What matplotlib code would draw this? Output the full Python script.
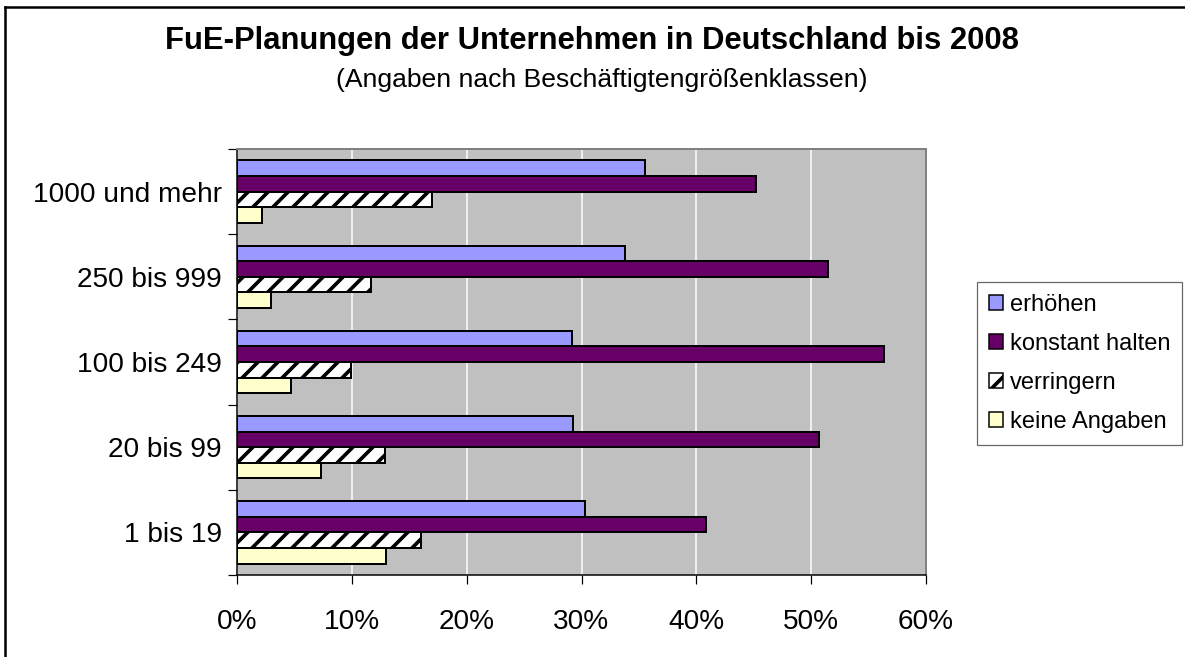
import matplotlib
matplotlib.use("Agg")
import matplotlib.pyplot as plt
import numpy as np
from matplotlib.patches import Patch
from matplotlib.lines import Line2D

plt.rcParams['font.family'] = ['Liberation Sans', 'DejaVu Sans']
plt.rcParams['hatch.linewidth'] = 2.2

categories = ["1 bis 19", "20 bis 99", "100 bis 249", "250 bis 999", "1000 und mehr"]
series_names = ["erhöhen", "konstant halten", "verringern", "keine Angaben"]
erhoehen = [30.3, 29.3, 29.2, 33.8, 35.5]
konstant = [40.8, 50.7, 56.3, 51.5, 45.2]
verringern = [16.0, 12.9, 9.9, 11.7, 17.0]
keine = [13.0, 7.3, 4.7, 3.0, 2.2]
xticks = [0, 10, 20, 30, 40, 50, 60]
xtick_labels = ["0%", "10%", "20%", "30%", "40%", "50%", "60%"]

title = "FuE-Planungen der Unternehmen in Deutschland bis 2008"
subtitle = "(Angaben nach Beschäftigtengrößenklassen)"

DPI = 120
W, H = 1185, 657
fig = plt.figure(figsize=(W / DPI, H / DPI), dpi=DPI)
fig.patch.set_facecolor('white')

def px(v):
    return v * 72.0 / DPI

ax = fig.add_axes([237 / W, 1 - 575 / H, (926 - 237) / W, (575 - 149) / H])
ax.set_facecolor('#C0C0C0')

styles = [
    dict(color='#9999FF', hatch=None),
    dict(color='#660066', hatch=None),
    dict(color='white', hatch='//'),
    dict(color='#FFFFCC', hatch=None),
]
data = [erhoehen, konstant, verringern, keine]
y = np.arange(len(categories))
bh = 0.183
offsets = [1.5 * bh, 0.5 * bh, -0.5 * bh, -1.5 * bh]
for vals, st, off, name in zip(data, styles, offsets, series_names):
    ax.barh(y + off, vals, height=bh, color=st['color'], edgecolor='black',
            linewidth=px(2.0), hatch=st['hatch'], label=name, zorder=3)

ax.set_xlim(0, 60)
ax.set_ylim(-0.5, len(categories) - 0.5)
ax.set_xticks(xticks)
ax.set_xticklabels(xtick_labels, fontsize=px(28))
ax.xaxis.grid(True, color='white', linewidth=px(1.5), zorder=1)
ax.set_axisbelow(True)

ax.set_yticks(y)
ax.set_yticklabels(categories, fontsize=px(28))
ax.set_yticks(np.arange(-0.5, len(categories), 1.0), minor=True)
ax.tick_params(axis='y', which='major', length=0, pad=px(15))
ax.tick_params(axis='y', which='minor', length=px(9), width=px(1.2), color='black')
ax.tick_params(axis='x', which='major', length=px(9), width=px(1.2), color='black', pad=px(25))

for s in ['left', 'bottom']:
    ax.spines[s].set_color('black')
    ax.spines[s].set_linewidth(px(1.5))
for s in ['top', 'right']:
    ax.spines[s].set_color('#808080')
    ax.spines[s].set_linewidth(px(2))

fig.text(592 / W, 1 - 41 / H, title, ha='center', va='center',
         fontsize=px(31), fontweight='bold')
fig.text(602 / W, 1 - 80 / H, subtitle, ha='center', va='center', fontsize=px(26.5))

handles = [Patch(facecolor=st['color'], edgecolor='black', hatch=st['hatch'],
                 linewidth=px(1.5)) for st in styles]
leg = fig.legend(handles, series_names, loc='upper left',
                 bbox_to_anchor=(977 / W, 1 - 282 / H), fontsize=px(23.6),
                 frameon=True, fancybox=False, edgecolor='#404040',
                 handlelength=0.6, handleheight=0.6, handletextpad=0.3,
                 labelspacing=0.72, borderpad=0.5, borderaxespad=0)
leg.get_frame().set_linewidth(px(1.2))

fx = 4.5 / W
fy = 1 - 6.5 / H
fig.add_artist(Line2D([fx, fx], [0, fy], transform=fig.transFigure,
                      color='black', linewidth=px(2.5)))
fig.add_artist(Line2D([fx, 1.0], [fy, fy], transform=fig.transFigure,
                      color='black', linewidth=px(2.5)))

fig.savefig("out.png", dpi=DPI)
